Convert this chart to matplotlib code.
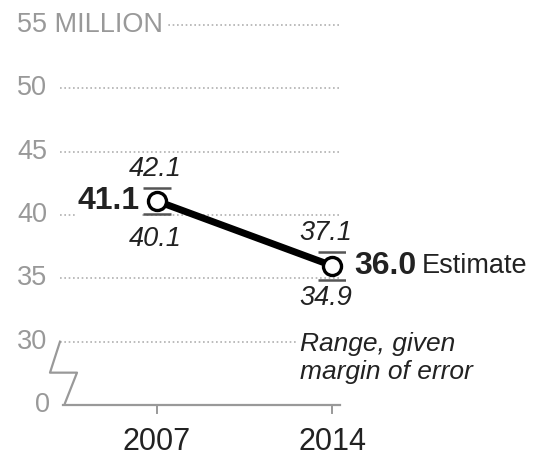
import matplotlib
matplotlib.use("Agg")
import matplotlib.pyplot as plt

plt.rcParams['font.family'] = ['Liberation Sans', 'DejaVu Sans']

# Estimated population (millions) with margin-of-error range
years = [2007, 2014]
estimate = [41.1, 36.0]
low = [40.1, 34.9]
high = [42.1, 37.1]

# y-axis ticks; the axis is broken between 0 and 30
tick_values = [0, 30, 35, 40, 45, 50, 55]
tick_labels = ["0", "30", "35", "40", "45", "50", "55 MILLION"]
BREAK_BASE = 25  # where the 0 tick is drawn on the broken scale

def axis_pos(v):
    """Map a value onto the broken y scale"""
    return BREAK_BASE if v == 0 else v

GRID = "#b0b0b0"
LABEL = "#999999"
DARK = "#222222"

fig = plt.figure(figsize=(5.37, 4.59), dpi=100)
ax = fig.add_axes([60 / 537, (459 - 405) / 459, 285 / 537, 380 / 459])
ax.set_xlim(2007 - 97 / 25, 2007 - 97 / 25 + 285 / 25)
ax.set_ylim(25, 55)
ax.axis("off")

# dotted gridlines
for v in tick_values[1:]:
    ax.plot([ax.get_xlim()[0], 2014.3], [v, v], color=GRID, lw=1.2,
            ls=(0, (1, 1.6)), zorder=1, clip_on=False)

# tick labels
xl = 2007 - 140 / 25
for v, lab in zip(tick_values, tick_labels):
    if v == 0:
        ax.text(2007 - 107 / 25, axis_pos(v), lab, ha="right", va="center",
                fontsize=19.5, color=LABEL, clip_on=False)
    else:
        ax.text(xl, v, lab, ha="left", va="center", fontsize=19.5, color=LABEL,
                clip_on=False, zorder=2,
                bbox=dict(facecolor="white", edgecolor="none", pad=3) if v == 55 else None)

# baseline and x ticks
ax.plot([2007 - 94 / 25, 2014.3], [BREAK_BASE, BREAK_BASE], color="#999999",
        lw=1.6, clip_on=False, zorder=2)
for yr in years:
    ax.plot([yr, yr], [BREAK_BASE, BREAK_BASE - 0.6], color="#999999", lw=1.4,
            clip_on=False)
    ax.text(yr, BREAK_BASE - 1.75, str(yr), ha="center", va="top", fontsize=22,
            color=DARK, clip_on=False)

# zigzag marking the axis break
zx = [2007 - 97 / 25, 2007 - 107 / 25, 2007 - 80 / 25, 2007 - 92 / 25]
zy = [30, 30 - 31 / 12.67, 30 - 31 / 12.67, BREAK_BASE + 0.15]
ax.plot(zx, zy, color="#999999", lw=1.6, clip_on=False, zorder=2)

# error range caps (the vertical part sits inside the marker)
ax.errorbar(years, estimate,
            yerr=[[e - l for e, l in zip(estimate, low)],
                  [h - e for e, h in zip(estimate, high)]],
            fmt="none", ecolor="#555555", elinewidth=0, capsize=10,
            capthick=1.8, zorder=3)

# estimate line
ax.plot(years, estimate, color="black", lw=5, zorder=4, solid_capstyle="butt")
ax.plot(years, estimate, "o", ms=13, mfc="white", mec="black", mew=2.4, zorder=5)

white = dict(facecolor="white", edgecolor="none", pad=1)
# 2007 labels
ax.text(2007 - 17 / 25, estimate[0], f"{estimate[0]:.1f}", ha="right",
        va="center", fontsize=23, fontweight="bold", color=DARK, zorder=6, bbox=white)
ax.text(2007 - 2 / 25, high[0] + 0.5, f"{high[0]:.1f}", ha="center", va="bottom",
        fontsize=19.5, style="italic", color=DARK, zorder=6, bbox=white)
ax.text(2007 - 2 / 25, low[0] - 0.95, f"{low[0]:.1f}", ha="center", va="top",
        fontsize=19.5, style="italic", color=DARK, zorder=6, bbox=white)

# 2014 labels
ax.text(2014 - 6 / 25, high[1] + 0.45, f"{high[1]:.1f}", ha="center",
        va="bottom", fontsize=19.5, style="italic", color=DARK, zorder=6)
ax.text(2014 - 6 / 25, low[1] - 0.45, f"{low[1]:.1f}", ha="center", va="top",
        fontsize=19.5, style="italic", color=DARK, zorder=6)
t = ax.text(2014 + 22 / 25, estimate[1], f"{estimate[1]:.1f}", ha="left",
            va="center", fontsize=23, fontweight="bold", color=DARK,
            clip_on=False, zorder=6)
ax.annotate("Estimate", xycoords=t, xy=(1, 0.5), xytext=(4, 0),
            textcoords="offset points", ha="left", va="center", fontsize=19.5,
            color=DARK)
ax.text(2014 - 32 / 25, 30.8, "Range, given\nmargin of error", ha="left",
        va="top", fontsize=19, style="italic", color=DARK, linespacing=1.25,
        clip_on=False, zorder=6, bbox=dict(facecolor="white", edgecolor="none", pad=2))

fig.savefig("out.png", dpi=100, facecolor="white")
